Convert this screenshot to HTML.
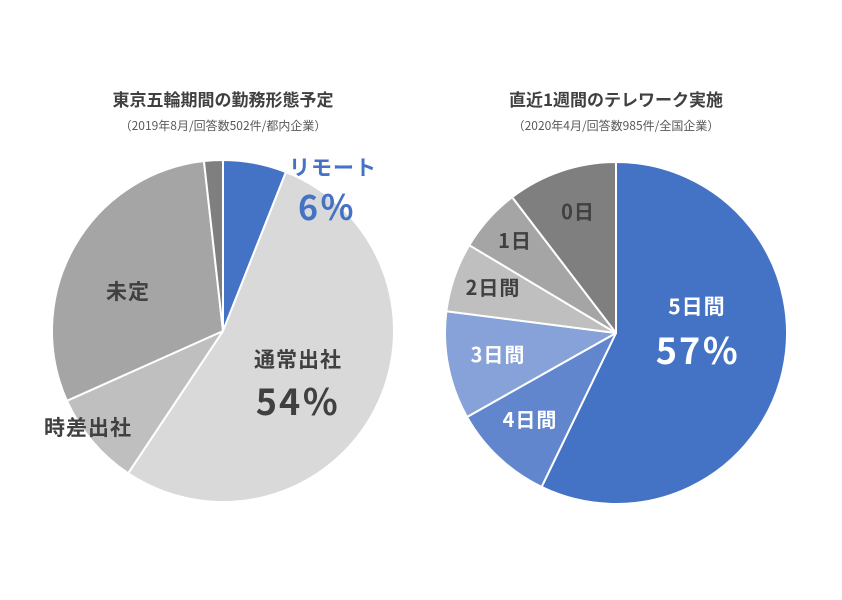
<!DOCTYPE html>
<html><head><meta charset="utf-8"><style>
html,body{margin:0;padding:0;background:#fff;}
svg text{font-family:"Noto Sans CJK JP",sans-serif;}
</style></head><body>
<svg id="s" width="842" height="595" viewBox="0 0 842 595" xmlns="http://www.w3.org/2000/svg">
<g id="p1"></g><g id="p2"></g>
<text x="223" y="106" text-anchor="middle" font-size="17" font-weight="bold" fill="#404040">東京五輪期間の勤務形態予定</text>
<text x="223" y="130" text-anchor="middle" font-size="12" fill="#595959">（2019年8月/回答数502件/都内企業）</text>
<text x="616" y="106" text-anchor="middle" font-size="17" font-weight="bold" fill="#404040">直近1週間のテレワーク実施</text>
<text x="616" y="130" text-anchor="middle" font-size="12" fill="#595959">（2020年4月/回答数985件/全国企業）</text>
<text x="333" y="175" text-anchor="middle" font-size="21" font-weight="bold" fill="#4472c4" letter-spacing="1">リモート</text>
<text x="327" y="220" text-anchor="middle" font-size="34" font-weight="bold" fill="#4472c4" letter-spacing="2">6％</text>
<text x="298" y="367" text-anchor="middle" font-size="21" font-weight="bold" fill="#404040" letter-spacing="1">通常出社</text>
<text x="298" y="415" text-anchor="middle" font-size="36" font-weight="bold" fill="#404040" letter-spacing="2">54％</text>
<text x="128" y="299" text-anchor="middle" font-size="21" font-weight="bold" fill="#404040" letter-spacing="1">未定</text>
<text x="88" y="435" text-anchor="middle" font-size="21" font-weight="bold" fill="#404040" letter-spacing="1">時差出社</text>
<text x="697" y="314" text-anchor="middle" font-size="21" font-weight="bold" fill="#fff" letter-spacing="1">5日間</text>
<text x="698" y="364" text-anchor="middle" font-size="36" font-weight="bold" fill="#fff" letter-spacing="2">57％</text>
<text x="530" y="427" text-anchor="middle" font-size="20" font-weight="bold" fill="#fff" letter-spacing="1">4日間</text>
<text x="498" y="362" text-anchor="middle" font-size="20" font-weight="bold" fill="#fff" letter-spacing="1">3日間</text>
<text x="493" y="295" text-anchor="middle" font-size="20" font-weight="bold" fill="#404040" letter-spacing="1">2日間</text>
<text x="515" y="248" text-anchor="middle" font-size="20" font-weight="bold" fill="#404040" letter-spacing="1">1日</text>
<text x="578" y="219" text-anchor="middle" font-size="20" font-weight="bold" fill="#404040" letter-spacing="1">0日</text>
</svg>
<script>
function pie(id,cx,cy,r,angles,colors){
  var g=document.getElementById(id),a0=0,h='';
  for(var i=0;i<angles.length;i++){
    var a1=angles[i];
    var x0=cx+r*Math.sin(a0*Math.PI/180),y0=cy-r*Math.cos(a0*Math.PI/180);
    var x1=cx+r*Math.sin(a1*Math.PI/180),y1=cy-r*Math.cos(a1*Math.PI/180);
    var large=(a1-a0)>180?1:0;
    h+='<path d="M'+cx+','+cy+' L'+x0+','+y0+' A'+r+','+r+' 0 '+large+' 1 '+x1+','+y1+' Z" fill="'+colors[i]+'" stroke="#fff" stroke-width="2" stroke-linejoin="round"/>';
    a0=a1;
  }
  g.innerHTML=h;
}
pie('p1',223,331,171,[21.6,213.7,245.9,353.6,360],['#4472c4','#d9d9d9','#bfbfbf','#a5a5a5','#7f7f7f']);
pie('p2',616,333,171,[205.8,240.6,277.3,300.9,322.6,360],['#4472c4','#6186cd','#86a2d8','#bfbfbf','#a5a5a5','#7f7f7f']);
</script>
</body></html>
